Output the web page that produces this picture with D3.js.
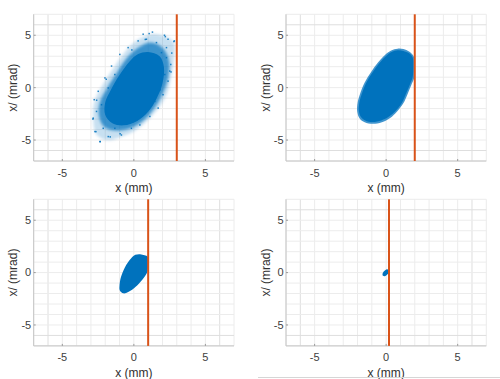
<!DOCTYPE html>
<html><head><meta charset="utf-8">
<script src="https://cdn.jsdelivr.net/npm/d3@7"></script>
<style>
html,body{margin:0;padding:0;background:#fff;}
svg{display:block;font-family:"Liberation Sans",Arial,sans-serif;}
</style></head>
<body>
<svg id="chart" width="500" height="379"></svg>
<script>
// ---- data ----
const xDomain = [-7, 7];
const yDomain = [-7, 7];
const tickValues = [-5, 0, 5];
const gridValues = [-7,-6,-5,-4,-3,-2,-1,0,1,2,3,4,5,6,7];
const xLabel = "x (mm)";
const yLabel = "x/ (mrad)";
const cutPositions = [3, 2, 1, 0.2];

// panel 1: beam before cut (outline of sparse halo, medium zone, dense core) + visible outliers
const p1Outer = [[1.2,5.1],[2.2,4.9],[2.8,4.3],[2.8,2.6],[2.6,1.0],[2.3,-0.6],[1.7,-2.0],[0.9,-3.2],[0.1,-4.1],[-0.9,-4.7],[-1.9,-5.0],[-2.6,-4.5],[-2.85,-3.0],[-2.75,-1.3],[-2.2,0.2],[-1.5,1.7],[-0.8,3.1],[0.1,4.4]];
const p1Mid = [[1.2,4.3],[2.0,3.8],[2.45,2.6],[2.4,1.0],[2.0,-0.6],[1.35,-2.1],[0.6,-3.2],[-0.3,-3.9],[-1.3,-4.1],[-2.1,-3.7],[-2.45,-2.6],[-2.35,-1.3],[-1.85,0.0],[-1.15,1.5],[-0.45,2.9],[0.4,3.9]];
const p1Core = [[1.0,3.4],[1.8,3.0],[2.1,2.0],[2.0,0.4],[1.6,-1.0],[1.0,-2.3],[0.2,-3.2],[-0.7,-3.6],[-1.5,-3.4],[-2.0,-2.6],[-2.0,-1.4],[-1.6,-0.2],[-1.0,1.2],[-0.3,2.5],[0.3,3.2]];
const p1DotsX = [1.07,2.2,2.83,2.28,2.58,2.39,2.51,2.04,1.7,1.12,0.42,-0.87,-1.79,-2.37,-2.72,-2.84,-2.77,-2.49,-2.02,-1.56,-0.98,-0.4,0.3,0.88,1.58,1.93,2.28,2.16,1.47,0.77,-0.17,-1.33,-2.14,-2.61,-2.26,-1.79,-1.33,2.39,0.65,1.3,2.14,2.8,0.8,2.65,2.6,-2.35,-2.65,-2.86,-2.6,-1.93,-1.65,-0.96,0.2,1.84,-0.14];
const p1DotsY = [5.16,4.87,4.46,3.82,2.21,0.62,1.58,-0.67,-1.95,-2.75,-3.56,-4.52,-4.67,-5.15,-4.19,-2.91,-1.15,-0.35,0.93,2.06,3.17,3.82,4.46,4.62,4.3,3.34,2.86,1.25,-1.31,-2.27,-3.88,-3.88,-3.88,-2.27,-1.63,-0.03,1.25,4.62,5.1,5.3,5.0,4.4,4.6,3.3,1.5,-5.15,-4.2,-3.0,-1.2,0.8,-4.7,-4.4,-3.1,-0.2,3.6];

// panel 2: cut at x = 2
const p2Edge = [[1.21,3.68],[1.6,3.45],[1.88,3.1],[2.0,2.7],[2.0,1.9],[1.97,1.0],[1.8,0.4],[1.5,-0.6],[1.2,-1.5],[0.75,-2.3],[0.28,-2.9],[-0.3,-3.3],[-0.95,-3.45],[-1.5,-3.3],[-1.85,-2.95],[-2.02,-2.3],[-2.0,-1.5],[-1.85,-0.7],[-1.5,0.5],[-1.05,1.5],[-0.6,2.35],[-0.1,3.1],[0.35,3.55],[0.8,3.72]];
const p2Core = [[1.2,3.5],[1.6,3.28],[1.85,2.9],[1.9,1.9],[1.85,1.0],[1.68,0.38],[1.38,-0.6],[1.1,-1.45],[0.66,-2.22],[0.2,-2.76],[-0.34,-3.13],[-0.95,-3.28],[-1.46,-3.13],[-1.76,-2.8],[-1.9,-2.27],[-1.88,-1.5],[-1.73,-0.7],[-1.38,0.5],[-0.93,1.5],[-0.48,2.32],[-0.02,3.0],[0.38,3.4],[0.8,3.56]];

// panel 3: cut at x = 1
const p3Core = [[0.44,1.76],[0.75,1.65],[0.98,1.5],[1.0,0.9],[0.95,0.1],[0.75,-0.4],[0.44,-0.92],[0.05,-1.45],[-0.3,-1.78],[-0.73,-1.98],[-0.98,-1.7],[-1.0,-1.2],[-0.9,-0.42],[-0.62,0.52],[-0.2,1.35],[0.1,1.7]];

// panel 4: cut at x = 0.2
const p4Core = [[0.05,0.33],[0.17,0.26],[0.19,0.02],[0.06,-0.2],[-0.1,-0.35],[-0.22,-0.31],[-0.25,-0.1],[-0.13,0.15]];

// ---- layout ----
const panels = [
  {x0:33.7, x1:234,   y0:14.3,  y1:161,   cut:cutPositions[0]},
  {x0:286,  x1:486.3, y0:14.3,  y1:161,   cut:cutPositions[1]},
  {x0:33.7, x1:234,   y0:199.3, y1:345.9, cut:cutPositions[2]},
  {x0:286,  x1:486.3, y0:199.3, y1:345.9, cut:cutPositions[3]}
];
const BLUE = "#0072BD", ORANGE = "#D95319";
const svg = d3.select("#chart");
const defs = svg.append("defs");
defs.append("filter").attr("id", "soft").attr("x", "-20%").attr("y", "-20%").attr("width", "140%").attr("height", "140%")
  .append("feGaussianBlur").attr("stdDeviation", 1.6);
defs.append("filter").attr("id", "soft2").attr("x", "-20%").attr("y", "-20%").attr("width", "140%").attr("height", "140%")
  .append("feGaussianBlur").attr("stdDeviation", 0.6);

panels.forEach((p, i) => {
  const x = d3.scaleLinear().domain(xDomain).range([p.x0, p.x1]);
  const y = d3.scaleLinear().domain(yDomain).range([p.y1, p.y0]);
  const g = svg.append("g");

  // grid
  g.selectAll(".gx").data(gridValues).join("line")
    .attr("x1", d => x(d)).attr("x2", d => x(d))
    .attr("y1", p.y0).attr("y2", p.y1)
    .attr("stroke", d => Math.abs(d) === 6 ? "#dedede" : "#ececec").attr("stroke-width", 1);
  g.selectAll(".gy").data(gridValues).join("line")
    .attr("y1", d => y(d)).attr("y2", d => y(d))
    .attr("x1", p.x0).attr("x2", p.x1)
    .attr("stroke", d => Math.abs(d) === 6 ? "#dedede" : "#ececec").attr("stroke-width", 1);

  const line = d3.line().x(d => x(d[0])).y(d => y(d[1])).curve(d3.curveCatmullRomClosed.alpha(0.5));
  const poly = (pts, op, filt) => {
    const path = g.append("path").attr("d", line(pts)).attr("fill", BLUE).attr("fill-opacity", op);
    if (filt) path.attr("filter", `url(#${filt})`);
    return path;
  };

  if (i === 0) {
    poly(p1Outer, 0.22, "soft");
    poly(p1Mid, 0.7, "soft");
    poly(p1Core, 1, "soft2");
    g.selectAll(".dot").data(p1DotsX).join("rect")
      .attr("x", (d, k) => x(d) - 0.75).attr("y", (d, k) => y(p1DotsY[k]) - 0.75)
      .attr("width", 1.5).attr("height", 1.5).attr("fill", BLUE).attr("fill-opacity", 0.85);
  } else if (i === 1) {
    poly(p2Edge, 0.75, "soft2");
    poly(p2Core, 1);
  } else if (i === 2) {
    poly(p3Core, 1);
  } else {
    poly(p4Core, 1);
  }

  // axes lines
  g.append("line").attr("x1", p.x0).attr("x2", p.x0).attr("y1", p.y0).attr("y2", p.y1)
    .attr("stroke", "#c4c4c4").attr("stroke-width", 1);
  g.append("line").attr("x1", p.x0).attr("x2", p.x1).attr("y1", p.y1).attr("y2", p.y1)
    .attr("stroke", "#c4c4c4").attr("stroke-width", 1);
  // ticks
  g.selectAll(".tx").data(tickValues).join("line")
    .attr("x1", d => x(d)).attr("x2", d => x(d)).attr("y1", p.y1).attr("y2", p.y1 - 2)
    .attr("stroke", "#9a9a9a");
  g.selectAll(".ty").data(tickValues).join("line")
    .attr("y1", d => y(d)).attr("y2", d => y(d)).attr("x1", p.x0).attr("x2", p.x0 + 2)
    .attr("stroke", "#9a9a9a");

  // cut line
  g.append("line").attr("x1", x(p.cut)).attr("x2", x(p.cut)).attr("y1", p.y0).attr("y2", p.y1)
    .attr("stroke", ORANGE).attr("stroke-width", 2);

  // tick labels
  g.selectAll(".lx").data(tickValues).join("text")
    .attr("x", d => x(d)).attr("y", p.y1 + 15.5)
    .attr("text-anchor", "middle").attr("font-size", 11).attr("fill", "#404040")
    .text(d => d === 0 ? "0" : (d < 0 ? "-" + Math.abs(d) : d));
  g.selectAll(".ly").data(tickValues).join("text")
    .attr("x", p.x0 - 2.5).attr("y", d => y(d)).attr("dy", "0.35em")
    .attr("text-anchor", "end").attr("font-size", 11).attr("fill", "#404040")
    .text(d => d === 0 ? "0" : (d < 0 ? "-" + Math.abs(d) : d));

  // axis labels
  g.append("text").attr("x", (p.x0 + p.x1) / 2).attr("y", p.y1 + 31)
    .attr("text-anchor", "middle").attr("font-size", 12).attr("fill", "#303030").text(xLabel);
  g.append("text").attr("transform", `translate(${p.x0 - 16.5},${(p.y0 + p.y1) / 2}) rotate(-90)`)
    .attr("text-anchor", "middle").attr("font-size", 12).attr("fill", "#303030").text(yLabel);
});

// faint frame line under the lower-right panel (present in the reference)
svg.append("line").attr("x1", 258).attr("x2", 500).attr("y1", 377.5).attr("y2", 377.5)
  .attr("stroke", "#d6d6d6").attr("stroke-width", 1);
</script>
</body></html>
